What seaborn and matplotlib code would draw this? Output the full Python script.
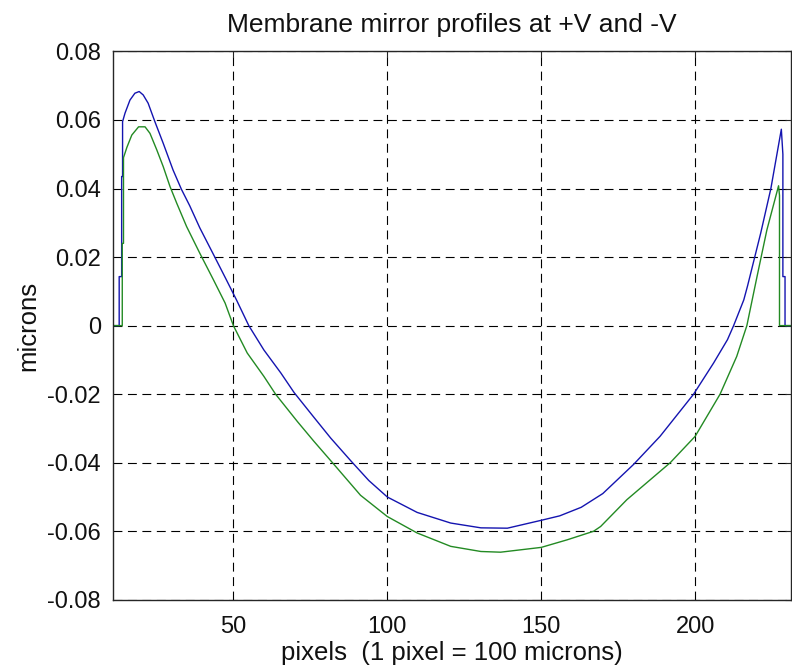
import pandas as pd
import seaborn as sns
import matplotlib.pyplot as plt

# profile at +V (blue)
plus_x = [11, 12.9, 12.9, 13.7, 13.7, 14.0, 14.0, 14.8, 16.4, 18.0, 19.4, 20.7,
          22.3, 24.5, 27.2, 30.4, 33.1, 35.8, 39.1, 43.9, 47.7, 51.0, 55.0,
          59.9, 65.4, 69.7, 76.2, 81.6, 88.2, 94.0, 100, 109.7, 120.6, 130.4,
          139.0, 150, 156.0, 163.0, 170.0, 180, 188.6, 199.5, 206.0, 210.5,
          212.5, 215.8, 217.0, 221.3, 224.6, 228.0, 228.5, 228.5, 229.2,
          229.2, 231]
plus_y = [0, 0, 0.0143, 0.0143, 0.0435, 0.0435, 0.0595, 0.0620, 0.0658,
          0.0678, 0.0683, 0.0673, 0.0649, 0.0595, 0.0532, 0.0454, 0.0398,
          0.0350, 0.0285, 0.0201, 0.0134, 0.0075, 0.0, -0.0071, -0.0138,
          -0.0195, -0.0268, -0.0328, -0.0395, -0.0452, -0.0500, -0.0545,
          -0.0576, -0.0590, -0.0591, -0.0568, -0.0555, -0.0530, -0.0490,
          -0.0405, -0.0323, -0.0200, -0.0109, -0.0041, 0.0, 0.0075, 0.0115,
          0.0270, 0.0400, 0.0573, 0.0500, 0.0143, 0.0143, 0.0, 0.0]

# profile at -V (green)
minus_x = [11, 13.9, 13.9, 14.3, 14.3, 15.4, 17.0, 19.2, 21.3, 22.9, 25.1,
           27.2, 29.4, 31.6, 34.8, 39.1, 43.5, 47.3, 50.0, 54.5, 59.9, 63.7,
           70.8, 76.2, 82.0, 91.3, 100, 109.7, 120.6, 130.4, 136.8, 150,
           158.4, 167.0, 169.3, 177.8, 191.9, 200, 208.1, 213.5, 216.8,
           220.1, 223.3, 227.1, 227.4, 227.4, 231]
minus_y = [0, 0, 0.0240, 0.0240, 0.0490, 0.0520, 0.0556, 0.0580, 0.0580,
           0.0561, 0.0513, 0.0464, 0.0406, 0.0357, 0.0289, 0.0211, 0.0134,
           0.0066, 0.0, -0.0080, -0.0148, -0.0200, -0.0280, -0.0338,
           -0.0398, -0.0495, -0.0557, -0.0605, -0.0644, -0.0659, -0.0661,
           -0.0647, -0.0625, -0.0600, -0.0586, -0.0508, -0.0400, -0.0323,
           -0.0200, -0.0090, 0.0, 0.0143, 0.0279, 0.0408, 0.0380, 0.0, 0.0]

x_ticks = [50, 100, 150, 200]
y_ticks = [-0.08, -0.06, -0.04, -0.02, 0, 0.02, 0.04, 0.06, 0.08]
y_tick_labels = ['-0.08', '-0.06', '-0.04', '-0.02', '0',
                 '0.02', '0.04', '0.06', '0.08']

sns.set_theme(style='white')
plt.rcParams['font.family'] = ['Liberation Sans', 'DejaVu Sans']
plt.rcParams['axes.unicode_minus'] = False

fig = plt.figure(figsize=(7.92, 6.72), dpi=100)
ax = fig.add_axes([0.1431, 0.1074, 0.8551, 0.8161])

sns.lineplot(x=plus_x, y=plus_y, sort=False, estimator=None,
             color='#1414b0', linewidth=1.0, ax=ax)
sns.lineplot(x=minus_x, y=minus_y, sort=False, estimator=None,
             color='#238a23', linewidth=1.0, ax=ax)

ax.set_xlim(11, 231)
ax.set_ylim(-0.08, 0.08)
ax.set_xticks(x_ticks)
ax.set_yticks(y_ticks)
ax.set_yticklabels(y_tick_labels)

# dashed black grid like the matlab figure
ax.grid(True, color='black', linestyle=(0, (8, 5)), linewidth=0.8)
ax.set_axisbelow(True)
for s in ax.spines.values():
    s.set_visible(True)
    s.set_color('#262626')
    s.set_linewidth(1.0)

ax.tick_params(direction='in', length=4, width=0.8, top=True, right=True,
               labelsize=17, labelcolor='#111111', color='#262626')
ax.tick_params(axis='x', pad=12)
ax.tick_params(axis='y', pad=9)

ax.set_title('Membrane mirror profiles at +V and -V', fontsize=19,
             color='#111111', pad=14)
ax.set_xlabel('pixels  (1 pixel = 100 microns)', fontsize=18.5,
              color='#111111', labelpad=2)
ax.set_ylabel('microns', fontsize=18.5, color='#111111', labelpad=5)

fig.savefig('out.png', dpi=100, facecolor='white')
